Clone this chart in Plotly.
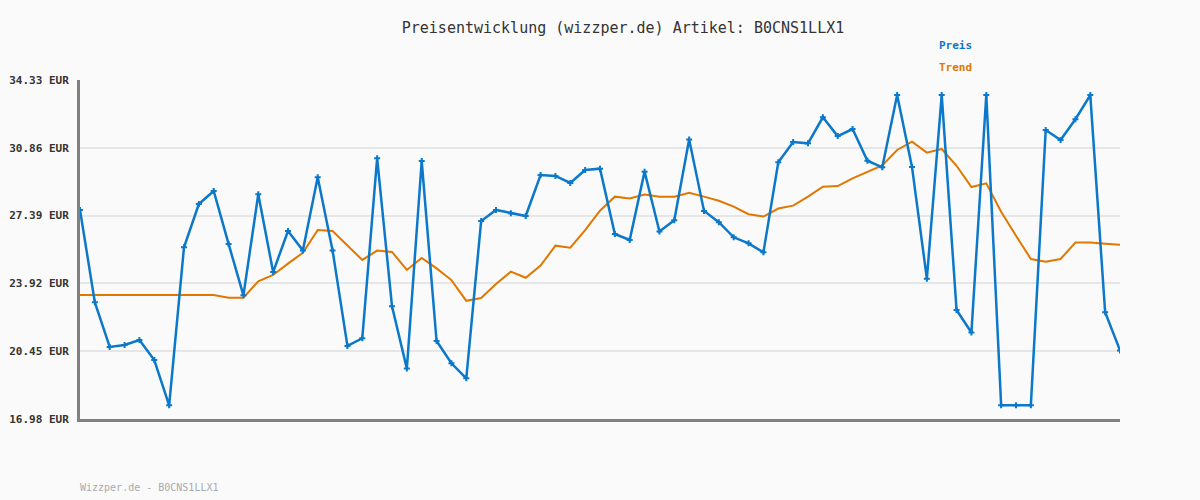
import plotly.graph_objects as go

preis = [27.68, 22.95, 20.67, 20.77, 21.02, 20.00, 17.68, 25.77, 27.98, 28.65,
         25.94, 23.31, 28.48, 24.50, 26.60, 25.61, 29.35, 25.61, 20.72, 21.11,
         30.32, 22.75, 19.56, 30.18, 20.97, 19.83, 19.06, 27.11, 27.68, 27.51,
         27.37, 29.47, 29.42, 29.06, 29.72, 29.79, 26.45, 26.14, 29.64, 26.58,
         27.15, 31.29, 27.63, 27.05, 26.28, 25.97, 25.51, 30.12, 31.16, 31.09,
         32.42, 31.46, 31.82, 30.20, 29.86, 33.56, 29.88, 24.16, 33.56, 22.56,
         21.41, 33.56, 17.68, 17.68, 17.68, 31.77, 31.26, 32.32, 33.56, 22.44,
         20.49]

trend = [23.33, 23.33, 23.33, 23.33, 23.33, 23.33, 23.33, 23.33, 23.33, 23.33,
         23.19, 23.19, 24.03, 24.35, 24.93, 25.49, 26.65, 26.60, 25.86, 25.12,
         25.60, 25.53, 24.61, 25.22, 24.69, 24.09, 23.03, 23.17, 23.89, 24.52,
         24.21, 24.83, 25.85, 25.75, 26.65, 27.64, 28.36, 28.27, 28.47, 28.36,
         28.36, 28.56, 28.36, 28.15, 27.85, 27.46, 27.34, 27.75, 27.90, 28.36,
         28.87, 28.90, 29.30, 29.64, 29.96, 30.75, 31.17, 30.61, 30.80, 29.94,
         28.85, 29.04, 27.59, 26.36, 25.17, 25.03, 25.17, 26.01, 26.01, 25.95,
         25.90]

tick_vals = [16.98, 20.45, 23.92, 27.39, 30.86, 34.33]
tick_text = ["16.98 EUR", "20.45 EUR", "23.92 EUR", "27.39 EUR", "30.86 EUR", "34.33 EUR"]

title_text = "Preisentwicklung (wizzper.de) Artikel: B0CNS1LLX1"
footer_text = "Wizzper.de - B0CNS1LLX1"

BLUE = "#0b78c9"
ORANGE = "#e07800"
FONT = "DejaVu Sans Mono"

# plot area in pixels: x 80..1120, y 80..419
PL, PR, PT, PB = 80, 1120, 80, 419
def px(xp):
    return (xp - PL) / (PR - PL)
def py(yp):
    return (PB - yp) / (PB - PT)

x = list(range(len(preis)))

fig = go.Figure()
fig.add_trace(go.Scatter(
    x=x, y=trend, mode="lines", name="Trend",
    line=dict(color=ORANGE, width=2), hoverinfo="skip"))
fig.add_trace(go.Scatter(
    x=x, y=preis, mode="lines+markers", name="Preis",
    line=dict(color=BLUE, width=2.5),
    marker=dict(symbol="cross", size=5, color=BLUE)))

fig.update_layout(
    width=1200, height=500,
    margin=dict(l=80, r=80, t=80, b=81),
    paper_bgcolor="#fafafa", plot_bgcolor="#fafafa",
    showlegend=False,
    font=dict(family=FONT, color="#333333"),
    title=dict(text=title_text, x=623/1200, xanchor="center", y=1-28/500, yanchor="middle",
               font=dict(family=FONT, size=15, color="#333333")),
)
fig.update_xaxes(range=[0, len(preis)-1], showgrid=False, zeroline=False,
                 showticklabels=False, ticks="", automargin=False,
                 showline=True, linecolor="#808080", linewidth=3)
fig.update_yaxes(range=[16.98, 34.33], tickvals=tick_vals, ticktext=tick_text,
                 showgrid=True, gridcolor="#e6e6e6", gridwidth=2, zeroline=False,
                 showline=True, linecolor="#808080", linewidth=3, automargin=False,
                 ticks="", ticklabelstandoff=6,
                 tickfont=dict(family=FONT, size=11, color="#333333", weight="bold"))

fig.add_annotation(text="<b>Preis</b>", x=px(937), y=py(46), xref="paper", yref="paper",
                   xanchor="left", yanchor="middle", showarrow=False,
                   font=dict(family=FONT, size=11, color=BLUE))
fig.add_annotation(text="<b>Trend</b>", x=px(937), y=py(67), xref="paper", yref="paper",
                   xanchor="left", yanchor="middle", showarrow=False,
                   font=dict(family=FONT, size=11, color=ORANGE))
fig.add_annotation(text=footer_text, x=px(78), y=py(487), xref="paper", yref="paper",
                   xanchor="left", yanchor="middle", showarrow=False,
                   font=dict(family=FONT, size=10, color="#aaaaaa"))

fig.write_html("out.html")
